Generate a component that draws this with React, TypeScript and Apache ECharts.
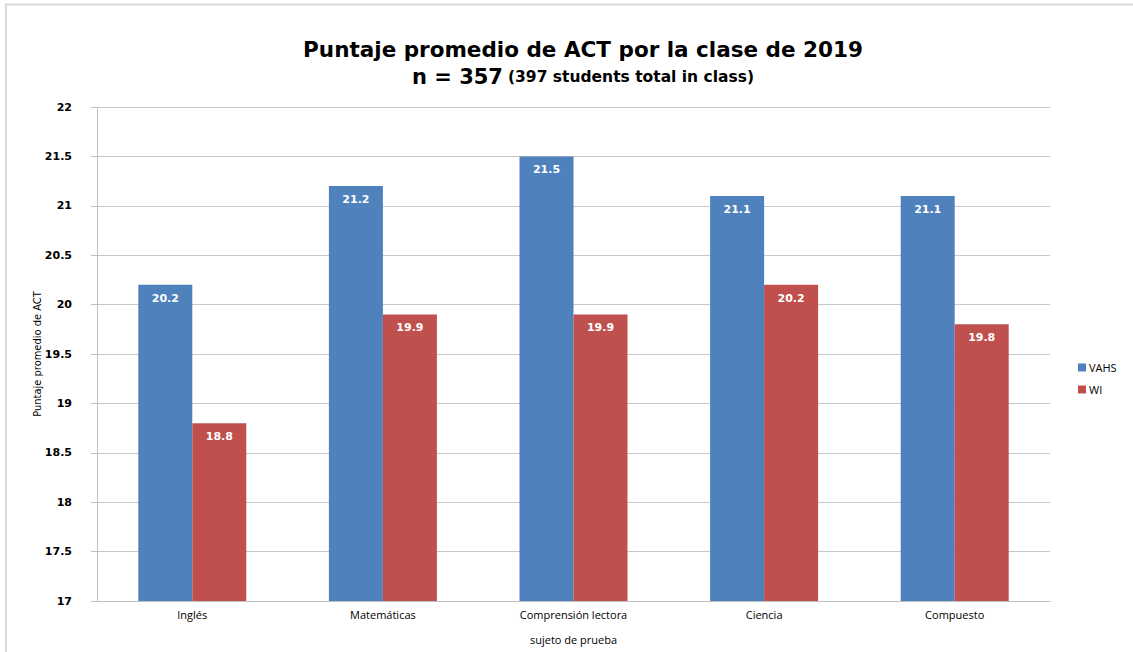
import React, { useEffect, useRef } from "react";
import * as echarts from "echarts";

const categories = ["Inglés", "Matemáticas", "Comprensión lectora", "Ciencia", "Compuesto"];
const vahsValues = [20.2, 21.2, 21.5, 21.1, 21.1];
const wiValues = [18.8, 19.9, 19.9, 20.2, 19.8];
const seriesNames = ["VAHS", "WI"];

export default function App() {
  const ref = useRef<HTMLDivElement>(null);
  useEffect(() => {
    document.body.style.margin = "0";
    const chart = echarts.init(ref.current!, null, { renderer: "svg" });
    const font = "Open Sans";
    const wide = "DejaVu Sans";
    const labelCommon = {
      show: true,
      position: "insideTop" as const,
      distance: 8,
      color: "#ffffff",
      fontWeight: "bold" as const,
      fontSize: 11,
      fontFamily: wide,
    };
    chart.setOption({
      animation: false,
      backgroundColor: "#ffffff",
      title: {
        text: "{a|Puntaje promedio de ACT por la clase de 2019}\n{b|n = 357} {c|(397 students total in class)}",
        left: 578,
        textAlign: "center",
        top: 30,
        textStyle: {
          rich: {
            a: { fontSize: 21.5, fontWeight: "bold", fontFamily: wide, color: "#000", lineHeight: 28 },
            b: { fontSize: 21, fontWeight: "bold", fontFamily: wide, color: "#000", lineHeight: 28 },
            c: { fontSize: 15.5, fontWeight: "bold", fontFamily: wide, color: "#000", lineHeight: 28 },
          },
        },
      },
      legend: {
        orient: "vertical",
        left: 1073,
        top: 357,
        itemWidth: 8,
        itemHeight: 8,
        itemGap: 11,
        icon: "rect",
        textStyle: { fontSize: 11, fontFamily: font, color: "#000", padding: [0, 0, 0, -2] },
        data: seriesNames,
      },
      grid: { left: 97, right: 83, top: 107, bottom: 51, containLabel: false },
      xAxis: {
        type: "category",
        data: categories,
        name: "sujeto de prueba",
        nameLocation: "middle",
        nameGap: 33,
        nameTextStyle: { fontSize: 11, fontFamily: font, color: "#000" },
        axisLine: { lineStyle: { color: "#bfbfbf", width: 1 } },
        axisTick: { show: false },
        axisLabel: { fontSize: 11, fontFamily: font, color: "#000", margin: 8 },
      },
      yAxis: {
        type: "value",
        min: 17,
        max: 22,
        interval: 0.5,
        name: "Puntaje promedio de ACT",
        nameLocation: "middle",
        nameGap: 54,
        nameMoveOverlap: false,
        nameTextStyle: { fontSize: 11, fontFamily: "DejaVu Sans Condensed", color: "#000" },
        axisLine: { show: true, lineStyle: { color: "#bfbfbf" } },
        axisTick: { show: true, length: 6, lineStyle: { color: "#bfbfbf" } },
        axisLabel: { fontSize: 11, fontWeight: "bold", fontFamily: wide, color: "#000", margin: 25 },
        splitLine: { lineStyle: { color: "#c8c8c8", width: 1 } },
      },
      series: [
        {
          name: seriesNames[0],
          type: "bar",
          data: vahsValues,
          barWidth: 54,
          barGap: "0%",
          itemStyle: { color: "#4f81bd" },
          label: labelCommon,
        },
        {
          name: seriesNames[1],
          type: "bar",
          data: wiValues,
          barWidth: 54,
          barGap: "0%",
          itemStyle: { color: "#c0504d" },
          label: labelCommon,
        },
      ],
      graphic: [
        { type: "line", shape: { x1: 5, y1: 4.5, x2: 1133, y2: 4.5 }, style: { stroke: "#d9d9d9", lineWidth: 2 } },
        { type: "line", shape: { x1: 6, y1: 4, x2: 6, y2: 652 }, style: { stroke: "#d9d9d9", lineWidth: 2 } },
      ],
    });
    return () => chart.dispose();
  }, []);
  return <div ref={ref} style={{ position: "absolute", left: 0, top: 0, width: 1133, height: 652 }} />;
}
